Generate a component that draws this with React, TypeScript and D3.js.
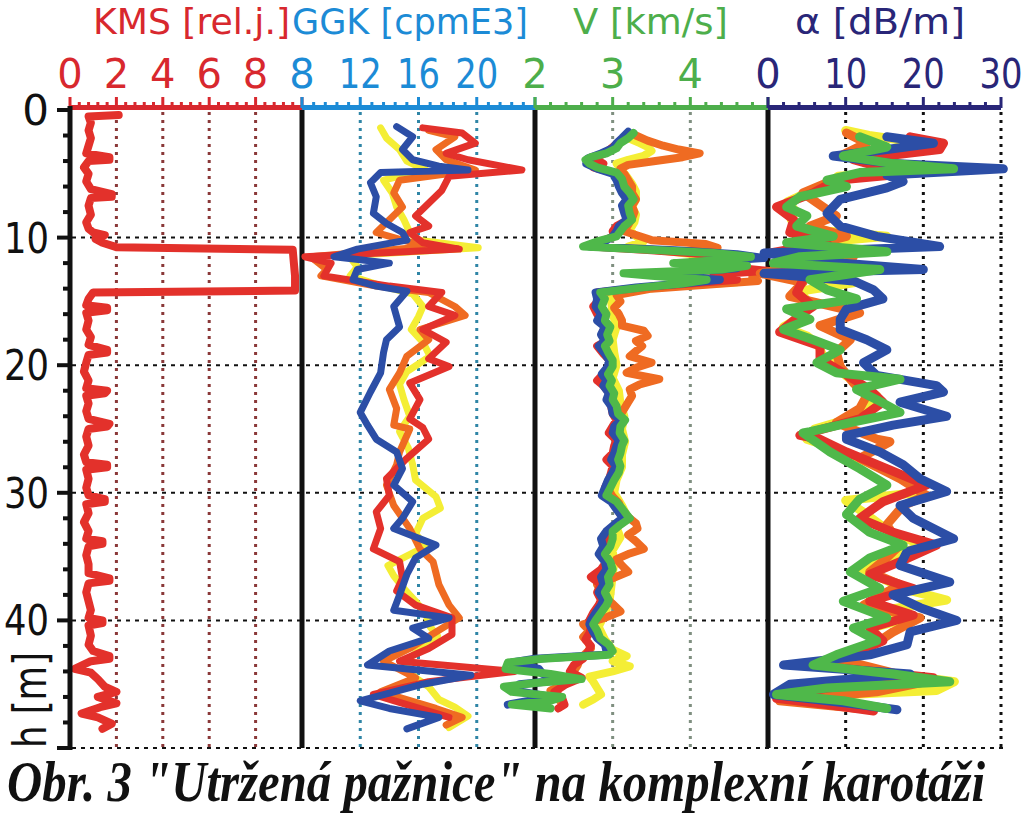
import React from 'react';
import * as d3 from 'd3';

type Pt = [number, number]; // [depth m, value]

// ---------- tick labels ----------
const depthTicks = [0, 10, 20, 30, 40];
const kmsTicks = [0, 2, 4, 6, 8];
const ggkTicks = [8, 12, 16, 20];
const vTicks = [2, 3, 4];
const alphaTicks = [0, 10, 20, 30];

// ---------- KMS [rel.j.] ----------
const kmsRed: Pt[] = [[0.4,2.1],[0.5,0.8],[1.0,0.9],[1.6,0.8],[2.2,0.9],[2.8,0.8],[3.4,0.7],[3.7,1.7],[3.9,1.7],[4.0,0.8],[4.5,0.6],[5.0,0.8],[5.6,0.7],[6.2,0.9],[6.6,1.8],[6.8,1.8],[6.9,0.9],[7.5,0.8],[8.2,0.9],[8.8,0.7],[9.3,0.8],[9.6,1.0],[9.8,1.5],[10.1,1.1],[10.4,1.4],[10.75,2.0],[10.95,9.6],[12.0,9.65],[13.0,9.7],[14.15,9.7],[14.3,1.0],[14.8,0.8],[15.3,0.7],[15.5,1.6],[15.7,1.6],[15.9,0.7],[16.5,0.8],[17.2,0.7],[17.8,0.9],[18.4,0.8],[18.8,1.6],[19.0,1.6],[19.2,0.8],[19.8,0.7],[20.5,0.6],[21.2,0.8],[21.8,0.7],[22.0,1.6],[22.2,1.5],[22.4,0.7],[23.0,0.8],[23.6,0.7],[24.2,0.8],[24.6,1.7],[24.8,1.6],[25.0,0.8],[25.6,0.7],[26.3,0.8],[27.0,0.6],[27.6,0.7],[27.8,1.6],[28.0,1.6],[28.2,0.7],[28.9,0.8],[29.6,0.7],[30.2,0.8],[30.5,1.5],[30.7,1.5],[30.9,0.7],[31.6,0.8],[32.3,0.6],[33.0,0.8],[33.6,0.7],[33.8,1.4],[34.0,1.4],[34.2,0.8],[34.9,0.7],[35.6,0.8],[36.3,0.8],[36.7,1.7],[36.9,1.7],[37.1,0.8],[37.8,0.7],[38.5,0.8],[39.2,0.9],[39.8,0.8],[40.0,1.4],[40.2,1.4],[40.4,0.8],[41.2,0.9],[41.9,0.8],[42.4,1.0],[42.8,1.7],[43.0,1.7],[43.2,0.9],[43.8,0.2],[44.1,0.9],[44.6,1.2],[45.2,1.5],[45.6,2.0],[46.0,1.2],[46.5,2.0],[46.8,1.3],[47.3,0.5],[47.6,1.2],[48.1,1.8],[48.5,1.4]];

// ---------- GGK [cpmE3] ----------
const ggkYellow: Pt[] = [[1.4,13.4],[2.2,13.8],[3.1,14.7],[4.0,15.2],[4.7,16.5],[5.5,13.6],[6.5,14.2],[7.6,14.5],[8.6,15.0],[9.6,15.4],[10.2,16.0],[10.8,20.1],[11.4,11.2],[12.3,11.8],[13.0,11.3],[13.8,13.5],[14.4,15.6],[15.4,16.3],[16.2,16.0],[17.2,15.5],[18.2,16.3],[19.3,16.8],[20.5,15.2],[21.5,14.7],[22.7,15.0],[24.0,15.4],[25.2,14.7],[26.5,15.3],[27.8,15.6],[29.0,15.8],[30.3,17.2],[31.2,17.5],[32.0,16.3],[33.2,15.8],[34.2,16.5],[35.7,13.9],[36.5,14.3],[37.5,15.0],[38.5,15.8],[39.5,16.5],[40.5,16.8],[41.2,17.3],[42.2,16.2],[43.3,15.0],[44.5,15.8],[45.2,16.7],[46.2,17.4],[46.8,18.5],[47.5,19.4],[48.4,18.1]];
const ggkOrange: Pt[] = [[1.6,16.7],[2.1,18.5],[3.1,17.2],[3.9,17.9],[4.7,19.9],[5.5,14.7],[6.5,14.3],[7.6,14.9],[8.6,14.0],[9.6,13.1],[10.2,14.9],[10.7,16.7],[11.5,8.6],[12.5,9.7],[13.0,9.3],[13.8,13.1],[14.3,16.7],[15.4,18.5],[16.1,19.2],[17.2,16.1],[18.0,16.7],[19.3,15.2],[20.6,14.7],[21.9,14.0],[23.4,14.5],[24.7,14.3],[25.0,15.4],[26.8,14.7],[27.8,14.5],[29.4,13.8],[31.0,14.3],[32.8,15.4],[34.4,16.1],[35.4,17.0],[37.2,17.4],[38.8,18.1],[39.8,18.8],[40.9,17.2],[42.2,15.4],[43.2,13.6],[44.5,15.8],[45.6,13.4],[46.9,17.2],[47.6,19.0],[48.2,17.9]];
const ggkRed: Pt[] = [[1.4,16.3],[1.8,19.0],[2.6,19.9],[3.4,17.9],[3.9,19.4],[4.7,23.1],[5.2,18.1],[6.3,17.6],[7.3,16.7],[8.3,15.8],[9.1,16.7],[9.6,15.4],[10.4,16.3],[10.9,18.8],[11.5,8.2],[12.0,10.0],[13.0,9.5],[13.8,14.0],[14.3,17.6],[15.4,16.7],[16.1,18.5],[17.2,16.3],[18.2,17.9],[19.5,16.7],[20.1,18.1],[21.4,15.4],[22.7,16.1],[24.2,15.4],[24.9,16.3],[25.8,16.7],[27.3,15.2],[28.9,13.8],[30.2,14.0],[31.5,13.1],[32.8,13.4],[34.4,12.9],[35.4,14.7],[36.7,14.9],[37.7,14.5],[38.8,15.8],[39.8,18.3],[41.1,18.3],[42.2,16.7],[43.2,14.7],[44.0,22.6],[44.8,16.7],[45.8,12.9],[46.6,15.2],[47.6,18.1]];
const ggkBlue: Pt[] = [[1.3,14.5],[2.1,15.6],[3.1,14.9],[3.9,15.6],[4.4,17.4],[4.7,19.4],[4.9,13.4],[5.7,12.7],[6.8,13.1],[8.1,12.9],[8.9,13.8],[9.6,14.9],[10.2,15.2],[10.9,11.8],[11.5,10.2],[12.0,14.0],[12.5,11.8],[13.3,11.5],[13.8,13.1],[14.2,15.2],[15.4,14.3],[17.0,14.7],[18.0,13.8],[19.0,13.6],[20.6,13.4],[22.1,12.7],[23.7,12.0],[24.7,12.5],[25.8,13.1],[26.8,14.5],[28.1,14.9],[29.4,14.3],[30.7,15.6],[32.0,14.9],[32.8,14.3],[34.1,17.2],[35.1,15.8],[36.4,15.2],[38.0,14.7],[39.2,14.3],[39.8,18.1],[40.6,15.6],[41.4,16.7],[42.4,14.0],[43.5,12.5],[44.3,19.6],[45.0,16.3],[46.3,12.0],[46.9,14.0],[47.6,17.4],[48.5,15.2]];

// ---------- V [km/s] ----------
const vYellow: Pt[] = [[2.2,3.2],[2.6,3.35],[2.9,3.45],[3.2,3.5],[3.6,3.4],[3.9,3.2],[4.2,3.05],[4.6,3.1],[5.2,3.18],[5.8,3.25],[6.4,3.3],[7.0,3.3],[7.6,3.25],[8.2,3.3],[8.8,3.28],[9.4,3.22],[9.9,3.3],[10.3,3.4],[10.7,3.2],[11.0,3.6],[11.5,4.3],[12.0,4.0],[12.5,4.5],[13.0,4.2],[13.5,4.6],[13.9,3.6],[14.4,2.95],[15.0,2.98],[16.0,3.0],[17.0,3.05],[18.0,3.0],[19.0,3.02],[20.0,3.05],[21.0,3.0],[22.0,3.08],[23.0,3.1],[24.0,3.15],[25.0,3.12],[26.0,3.16],[27.0,3.12],[28.0,3.12],[29.0,3.05],[30.0,3.02],[31.0,3.12],[32.0,3.2],[32.7,3.05],[33.5,3.1],[34.5,3.0],[35.5,3.02],[36.5,3.0],[37.5,2.98],[38.5,2.96],[39.5,2.9],[40.5,2.82],[41.5,2.9],[42.3,3.0],[42.8,3.18],[43.2,3.0],[43.6,3.22],[44.0,3.0],[44.4,2.7],[44.8,2.75],[45.3,2.8],[45.8,2.85],[46.2,2.75],[46.6,2.62]];
const vOrange: Pt[] = [[2.0,3.3],[2.4,3.45],[2.8,3.65],[3.1,3.85],[3.4,4.12],[3.7,3.9],[4.0,3.55],[4.3,3.2],[4.6,3.1],[5.0,3.15],[5.5,3.2],[6.0,3.25],[6.5,3.25],[7.0,3.3],[7.5,3.25],[8.0,3.28],[8.5,3.25],[9.0,3.2],[9.5,3.15],[9.9,3.35],[10.2,3.5],[10.5,4.2],[10.8,4.35],[11.1,3.9],[11.5,4.4],[11.9,4.1],[12.3,4.6],[12.7,4.85],[13.1,4.8],[13.4,4.87],[13.7,4.2],[14.0,3.5],[14.5,3.05],[15.0,3.1],[15.5,3.02],[16.0,3.08],[16.5,3.12],[16.9,3.12],[17.3,3.4],[17.7,3.45],[18.1,3.3],[18.5,3.38],[18.9,3.3],[19.3,3.22],[19.8,3.5],[20.2,3.3],[20.6,3.18],[21.1,3.6],[21.5,3.35],[21.9,3.22],[22.4,3.25],[22.9,3.2],[23.4,3.15],[23.9,3.1],[24.5,3.12],[25.0,3.08],[25.6,3.1],[26.2,3.08],[26.8,3.05],[27.4,3.02],[28.0,3.05],[28.6,3.0],[29.2,2.98],[29.8,2.95],[30.3,3.0],[30.8,3.08],[31.4,3.12],[31.9,3.2],[32.4,3.3],[32.8,3.32],[33.3,3.2],[33.8,3.3],[34.4,3.4],[34.8,3.2],[35.2,3.05],[35.7,3.12],[36.2,3.2],[36.7,3.0],[37.2,2.8],[37.7,2.85],[38.2,2.9],[38.7,3.0],[39.3,3.1],[39.8,2.9],[40.3,2.62],[40.8,2.7],[41.3,2.62],[41.7,2.68],[42.2,2.72],[42.6,2.65],[43.0,2.58],[43.5,2.55],[44.0,2.5],[44.5,2.45],[45.0,2.36],[45.5,2.2],[45.9,2.25],[46.3,2.32],[46.6,2.36]];
const vRed: Pt[] = [[1.9,3.2],[2.4,3.1],[2.9,3.0],[3.4,2.9],[3.8,2.75],[4.2,2.88],[4.5,2.75],[4.9,3.0],[5.5,3.1],[6.0,3.1],[6.5,3.15],[7.0,3.22],[7.6,3.15],[8.1,3.18],[8.6,3.2],[9.1,3.05],[9.5,3.0],[9.9,3.02],[10.3,2.85],[10.7,2.72],[11.0,3.5],[11.4,4.4],[11.7,4.7],[12.0,4.0],[12.3,4.5],[12.6,4.98],[12.9,4.3],[13.3,4.6],[13.6,4.0],[13.9,3.4],[14.3,2.8],[14.8,2.84],[15.4,2.75],[16.0,2.8],[16.5,2.86],[17.0,2.9],[17.6,2.86],[18.1,2.92],[18.5,2.8],[19.1,2.88],[19.6,2.96],[20.1,2.95],[20.7,2.88],[21.2,2.8],[21.6,2.88],[22.2,2.96],[22.7,2.94],[23.2,2.98],[23.8,3.0],[24.3,3.05],[24.8,3.0],[25.3,2.95],[25.9,3.05],[26.3,3.02],[26.9,3.0],[27.4,2.92],[27.9,3.0],[28.4,2.98],[29.0,2.95],[29.6,2.9],[30.2,2.9],[30.7,3.0],[31.3,3.06],[31.7,3.1],[32.0,3.15],[32.5,3.05],[33.0,2.95],[33.6,2.9],[34.2,2.92],[34.8,2.85],[35.4,2.92],[36.0,2.85],[36.6,2.72],[37.2,2.85],[37.8,2.8],[38.4,2.85],[38.8,2.82],[39.4,2.75],[40.0,2.7],[40.5,2.72],[41.0,2.7],[41.5,2.65],[42.0,2.72],[42.5,2.68],[43.0,2.62],[43.5,2.5],[44.0,2.45],[44.5,2.6],[45.0,2.4],[45.6,2.25],[46.1,2.35],[46.6,2.38],[46.9,2.3]];
const vBlue: Pt[] = [[1.7,3.2],[2.2,3.12],[2.6,3.05],[3.0,3.0],[3.4,2.85],[3.8,2.68],[4.2,2.66],[4.6,2.8],[5.0,3.0],[5.5,3.05],[6.0,3.08],[6.5,3.12],[7.0,3.18],[7.5,3.12],[8.1,3.15],[8.6,3.18],[9.1,3.08],[9.5,3.05],[9.9,3.0],[10.3,2.9],[10.7,2.7],[11.0,3.8],[11.3,4.6],[11.6,4.95],[11.9,4.2],[12.1,3.9],[12.4,4.6],[12.7,4.0],[13.0,3.6],[13.3,4.38],[13.6,3.9],[13.9,3.3],[14.3,2.78],[14.8,2.8],[15.4,2.78],[16.0,2.85],[16.5,2.8],[17.0,2.9],[17.6,2.85],[18.1,2.9],[18.5,2.82],[19.1,2.9],[19.6,2.95],[20.1,2.94],[20.7,2.86],[21.2,2.92],[21.6,2.88],[22.2,2.95],[22.7,2.92],[23.2,2.98],[23.8,3.0],[24.3,3.1],[24.8,3.02],[25.3,3.0],[25.9,3.08],[26.3,3.05],[26.9,3.02],[27.4,2.98],[27.9,3.04],[28.4,3.0],[29.0,2.94],[29.6,2.9],[30.2,2.86],[30.7,2.98],[31.3,3.05],[31.7,3.1],[32.0,3.12],[32.5,3.02],[33.0,2.92],[33.6,2.85],[34.2,2.88],[34.8,2.82],[35.4,2.9],[36.0,2.92],[36.6,2.85],[37.2,2.88],[37.8,2.82],[38.4,2.88],[38.8,2.85],[39.4,2.78],[40.0,2.72],[40.3,2.7],[40.8,2.74],[41.4,2.8],[41.9,2.9],[42.4,2.92],[42.7,2.9],[43.0,2.0],[43.3,1.7],[43.8,2.05],[44.2,2.1],[44.6,2.5],[45.0,1.8],[45.5,1.75],[46.0,2.2],[46.6,1.65]];
const vGreen: Pt[] = [[1.8,3.27],[2.2,3.2],[2.6,3.1],[3.0,3.05],[3.4,2.92],[3.7,2.72],[3.9,2.65],[4.2,2.7],[4.5,2.8],[4.9,3.05],[5.4,3.12],[6.0,3.15],[6.5,3.22],[7.0,3.27],[7.5,3.2],[8.1,3.22],[8.6,3.25],[9.1,3.15],[9.5,3.1],[9.9,3.05],[10.3,2.8],[10.7,2.62],[11.0,3.6],[11.2,4.3],[11.5,4.78],[11.8,4.3],[12.0,3.78],[12.2,4.73],[12.5,4.4],[12.8,3.14],[13.0,3.5],[13.3,4.21],[13.6,3.9],[13.9,3.4],[14.3,2.84],[14.8,2.9],[15.4,2.86],[16.0,2.92],[16.5,2.9],[17.0,2.97],[17.6,2.93],[18.1,2.96],[18.5,2.9],[19.1,2.95],[19.6,3.0],[20.1,3.0],[20.7,2.94],[21.2,2.99],[21.6,2.96],[22.2,3.02],[22.7,3.0],[23.2,3.05],[23.8,3.07],[24.3,3.16],[24.8,3.1],[25.3,3.09],[25.9,3.15],[26.3,3.12],[26.9,3.1],[27.4,3.07],[27.9,3.1],[28.4,3.08],[29.0,3.02],[29.6,2.97],[30.2,2.92],[30.7,3.05],[31.3,3.13],[31.7,3.18],[32.0,3.22],[32.5,3.1],[33.0,3.0],[33.6,3.0],[34.2,2.97],[34.8,2.9],[35.4,2.97],[36.0,3.0],[36.6,2.94],[37.2,2.96],[37.8,2.9],[38.4,2.95],[38.8,2.92],[39.4,2.85],[40.0,2.78],[40.3,2.75],[40.8,2.8],[41.4,2.84],[41.9,2.95],[42.4,3.0],[42.7,2.95],[43.0,2.1],[43.3,1.65],[43.8,1.62],[44.2,2.2],[44.6,2.6],[44.9,2.0],[45.2,1.6],[45.6,1.7],[46.0,2.35],[46.3,2.2],[46.6,1.7],[46.9,2.2]];

// ---------- alpha [dB/m] ----------
const aYellow: Pt[] = [[1.6,10],[2.0,13],[2.6,20],[3.1,16],[3.6,10],[4.2,14],[4.7,21],[5.2,9],[5.8,8],[6.5,5],[7.2,2.5],[7.9,3.5],[8.6,3],[9.3,4],[9.9,15.3],[10.4,6],[11.0,3],[11.6,8],[12.2,6],[12.8,3],[13.5,11.4],[14.2,4],[14.9,5],[15.6,4.5],[16.3,4],[17.0,2],[17.7,5],[18.4,6.5],[19.2,7],[20.0,9],[20.8,10],[21.6,12],[22.4,14],[23.2,13],[24.1,11],[25.0,6],[25.8,5],[26.6,9],[27.4,12],[28.2,15],[29.1,18],[30.0,19],[30.6,10],[31.4,12],[32.3,14],[33.2,16],[34.1,20],[35.0,16],[35.9,12],[36.8,15],[37.6,18],[38.4,23],[39.2,15],[40.0,17],[40.8,12],[41.6,14],[42.4,12],[43.2,7],[44.0,14],[44.8,24],[45.5,21.7],[46.0,3],[46.5,6],[46.9,12]];
const aOrange: Pt[] = [[1.8,10.1],[2.6,12.7],[3.6,9.3],[4.7,19.6],[5.5,8.4],[6.5,4.5],[7.6,7.1],[8.3,8.8],[9.1,5.4],[9.9,10.1],[10.7,5.0],[11.5,11.0],[12.2,4.1],[12.8,-1.0],[13.5,4.5],[14.6,2.8],[15.9,11.8],[16.9,6.7],[18.0,10.6],[19.0,8.8],[20.1,9.3],[21.4,11.0],[22.4,12.7],[23.4,11.8],[24.5,8.8],[25.8,14.0],[26.0,15.7],[27.3,11.8],[28.9,17.0],[30.2,20.4],[31.0,17.4],[32.5,15.3],[34.1,17.0],[35.1,15.3],[36.2,13.1],[37.2,17.0],[38.8,12.3],[39.8,19.6],[40.9,16.1],[41.9,13.6],[43.0,8.8],[44.0,15.3],[44.8,20.4],[45.6,14.0],[46.3,1.5],[46.9,11.8]];
const aRed: Pt[] = [[2.1,18.3],[2.6,22.6],[3.1,22.1],[3.9,11.0],[4.4,14.0],[4.7,23.0],[5.5,8.8],[6.5,5.8],[7.6,1.1],[8.6,3.3],[9.6,2.8],[10.4,7.6],[11.2,0.3],[12.0,5.8],[12.5,7.6],[13.3,4.5],[14.3,3.7],[15.4,5.8],[16.1,4.1],[17.4,1.5],[18.5,6.7],[19.5,6.7],[20.6,9.7],[21.9,13.1],[22.9,14.8],[24.2,11.8],[25.5,4.1],[25.8,6.7],[26.8,10.1],[28.1,15.3],[29.4,20.4],[30.7,14.8],[32.0,11.8],[33.1,16.1],[34.1,21.7],[35.4,17.0],[36.4,13.1],[37.5,18.7],[38.5,13.1],[39.6,18.7],[40.6,13.1],[41.6,14.8],[42.4,11.8],[43.5,5.4],[44.5,21.3],[45.3,7.6],[46.1,1.1],[46.6,7.6],[47.1,13.6]];
const aBlue: Pt[] = [[2.1,15.3],[2.6,21.3],[3.1,15.3],[3.6,8.4],[4.2,16.1],[4.6,30.3],[5.1,15.3],[5.6,17.4],[6.1,15.3],[7.0,9.3],[8.1,7.6],[9.1,9.3],[9.9,14.0],[10.7,22.1],[11.2,-0.5],[12.0,9.7],[12.5,20.0],[12.8,-0.5],[13.4,11.0],[14.1,13.6],[14.8,14.8],[15.6,10.1],[16.4,9.3],[17.2,9.3],[18.0,12.7],[18.8,15.3],[19.8,12.3],[20.8,14.0],[21.6,21.7],[22.1,22.6],[22.9,17.0],[24.0,23.0],[24.7,16.1],[25.5,10.1],[25.8,10.1],[26.8,14.4],[27.8,17.4],[28.9,19.6],[29.9,23.0],[31.0,17.0],[32.0,18.7],[33.6,23.9],[34.6,17.9],[35.7,17.0],[37.0,23.4],[38.0,16.1],[39.0,19.6],[40.0,24.3],[40.9,18.3],[41.9,17.9],[42.7,13.1],[43.5,2.0],[44.2,18.3],[45.0,2.8],[45.8,0.7],[46.6,11.8],[47.0,16.6]];
const aGreen: Pt[] = [[2.1,11.8],[2.9,15.3],[3.6,9.7],[4.2,16.1],[4.6,23.9],[4.9,11.8],[5.5,7.6],[6.0,10.1],[6.8,4.1],[7.6,2.4],[8.3,5.0],[9.1,3.7],[9.9,8.4],[10.4,2.4],[11.1,15.3],[11.5,4.1],[12.0,0.7],[12.5,14.4],[13.3,5.4],[14.1,7.6],[14.8,11.4],[15.6,2.4],[16.4,5.4],[17.2,2.0],[18.0,5.8],[18.8,9.3],[19.8,6.3],[20.6,8.8],[21.1,17.0],[21.9,11.4],[22.7,14.0],[23.7,17.0],[24.5,10.6],[25.2,5.4],[25.3,4.5],[26.8,8.0],[28.1,11.8],[29.4,15.3],[30.5,11.8],[31.7,10.1],[33.1,13.1],[34.1,17.4],[35.1,13.1],[36.2,10.6],[37.5,14.4],[38.5,9.7],[39.8,15.3],[40.6,11.0],[41.6,14.0],[42.7,8.8],[43.5,5.8],[44.2,16.1],[44.8,23.4],[45.3,7.6],[45.8,1.1],[46.3,9.7],[46.9,15.3]];

// ---------- colours ----------
const RED = '#e3312b';
const ORANGE = '#ef6b22';
const YELLOW = '#f4ee35';
const BLUE = '#2c4ea6';
const GREEN = '#4fb84a';

const y = d3.scaleLinear().domain([0, 50]).range([110, 748]);

interface Series { data: Pt[]; color: string; w: number }
interface Panel {
  title: string; titleX: number; titleW: number; color: string;
  domain: [number, number]; range: [number, number];
  labels: number[]; major: number; grid: number[]; gridColor: string;
  series: Series[];
}

const panels: Panel[] = [
  { title: 'KMS [rel.j.]', titleX: 93, titleW: 197, color: '#d8282e', domain: [0, 10], range: [70, 302],
    labels: kmsTicks, major: 2, grid: [2, 4, 6, 8], gridColor: '#8a3838',
    series: [{ data: kmsRed, color: RED, w: 8 }] },
  { title: 'GGK [cpmE3]', titleX: 292, titleW: 236, color: '#1c8bd6', domain: [8, 24], range: [302, 535],
    labels: ggkTicks, major: 4, grid: [12, 16, 20], gridColor: '#2f85a6',
    series: [
      { data: ggkYellow, color: YELLOW, w: 7 },
      { data: ggkOrange, color: ORANGE, w: 7 },
      { data: ggkRed, color: RED, w: 7 },
      { data: ggkBlue, color: BLUE, w: 7 }] },
  { title: 'V [km/s]', titleX: 573, titleW: 155, color: '#4dae4b', domain: [2, 5], range: [535, 768],
    labels: vTicks, major: 1, grid: [3, 4], gridColor: '#7f8f80',
    series: [
      { data: vYellow, color: YELLOW, w: 8 },
      { data: vOrange, color: ORANGE, w: 8 },
      { data: vRed, color: RED, w: 8 },
      { data: vBlue, color: BLUE, w: 8 },
      { data: vGreen, color: GREEN, w: 8 }] },
  { title: 'α [dB/m]', titleX: 795, titleW: 170, color: '#292678', domain: [0, 30], range: [768, 1001],
    labels: alphaTicks, major: 10, grid: [10, 20, 30], gridColor: '#111111',
    series: [
      { data: aYellow, color: YELLOW, w: 9 },
      { data: aOrange, color: ORANGE, w: 9 },
      { data: aRed, color: RED, w: 9 },
      { data: aBlue, color: BLUE, w: 9 },
      { data: aGreen, color: GREEN, w: 9 }] },
];

const FONT = '"DejaVu Sans", Verdana, sans-serif';

export default function App() {
  const minorDepth = d3.range(0, 50.01, 2).filter((d) => d % 10 !== 0);
  const majorDepth = d3.range(0, 50.01, 10);

  return (
    <svg width={1024} height={814} viewBox="0 0 1024 814"
      style={{ display: 'block', position: 'absolute', left: 0, top: 0, background: '#fff' }}>
      <rect x={0} y={0} width={1024} height={814} fill="#ffffff" />

      {/* vertical dotted grid lines */}
      {panels.map((p, i) => {
        const x = d3.scaleLinear().domain(p.domain).range(p.range);
        return p.grid.map((g) => (
          <line key={`g${i}-${g}`} x1={x(g)} x2={x(g)} y1={112} y2={748}
            stroke={p.gridColor} strokeWidth={3} strokeDasharray="3,5" />
        ));
      })}

      {/* horizontal dotted grid lines */}
      {[10, 20, 30, 40, 50].map((d) => (
        <line key={`h${d}`} x1={72} x2={1003} y1={y(d)} y2={y(d)}
          stroke="#111" strokeWidth={2} strokeDasharray="4,5" />
      ))}

      {/* panel separators */}
      {[302, 535, 768].map((xx) => (
        <line key={`s${xx}`} x1={xx} x2={xx} y1={106} y2={748} stroke="#111" strokeWidth={5} />
      ))}

      {/* curves */}
      {panels.map((p, i) => {
        const x = d3.scaleLinear().domain(p.domain).range(p.range);
        const line = d3.line<Pt>().x((d) => x(d[1])).y((d) => y(d[0]));
        return (
          <g key={`c${i}`}>
            {p.series.map((s, j) => (
              <path key={j} d={line(s.data) || ''} fill="none" stroke={s.color}
                strokeWidth={s.w} strokeLinejoin="round" strokeLinecap="round" />
            ))}
          </g>
        );
      })}

      {/* top axes */}
      {panels.map((p, i) => {
        const x = d3.scaleLinear().domain(p.domain).range(p.range);
        const majors = d3.range(p.domain[0], p.domain[1] + 1e-6, p.major);
        const step = p.major / 5;
        const minors = d3.range(p.domain[0], p.domain[1] + 1e-6, step)
          .filter((v) => Math.abs(((v - p.domain[0]) / p.major) - Math.round((v - p.domain[0]) / p.major)) > 1e-6);
        return (
          <g key={`a${i}`}>
            <line x1={p.range[0]} x2={p.range[1]} y1={107.5} y2={107.5} stroke={p.color} strokeWidth={5} />
            {majors.map((m) => (
              <line key={`M${m}`} x1={x(m)} x2={x(m)} y1={97} y2={108} stroke={p.color} strokeWidth={3} />
            ))}
            {minors.map((m) => (
              <line key={`m${m}`} x1={x(m)} x2={x(m)} y1={102} y2={108} stroke={p.color} strokeWidth={3} />
            ))}
            {p.labels.map((l) => {
              const s = String(l);
              return (
                <text key={`l${l}`} x={x(l)} y={88} textAnchor="middle" fill={p.color}
                  fontFamily={FONT} fontSize={40}
                  {...(s.length > 1 ? { textLength: 43, lengthAdjust: 'spacingAndGlyphs' } : {})}>{s}</text>
              );
            })}
            <text x={p.titleX} y={34} fill={p.color} fontFamily={FONT} fontSize={36}
              textLength={p.titleW} lengthAdjust="spacingAndGlyphs">{p.title}</text>
          </g>
        );
      })}

      {/* left depth axis */}
      <line x1={70} x2={70} y1={106} y2={750} stroke="#111" strokeWidth={5} />
      {majorDepth.map((d) => (
        <line key={`dM${d}`} x1={57} x2={70} y1={y(d)} y2={y(d)} stroke="#111" strokeWidth={4} />
      ))}
      {minorDepth.map((d) => (
        <line key={`dm${d}`} x1={63} x2={70} y1={y(d)} y2={y(d)} stroke="#111" strokeWidth={4} />
      ))}
      {depthTicks.map((d) => {
        const s = String(d);
        return (
          <text key={`dl${d}`} x={49} y={y(d) + 15} textAnchor="end" fill="#111"
            fontFamily={FONT} fontSize={42}
            {...(s.length > 1 ? { textLength: 45, lengthAdjust: 'spacingAndGlyphs' } : {})}>{s}</text>
        );
      })}
      <text transform={`translate(46,700) rotate(-90)`} textAnchor="middle" fill="#111"
        fontFamily={FONT} fontSize={46} textLength={96} lengthAdjust="spacingAndGlyphs">h [m]</text>

      {/* caption */}
      <text x={7} y={801} fill="#111" fontFamily='"Liberation Serif", "Times New Roman", serif'
        fontWeight="bold" fontStyle="italic" fontSize={57} textLength={978}
        lengthAdjust="spacingAndGlyphs">Obr. 3 "Utržená pažnice" na komplexní karotáži</text>
    </svg>
  );
}
